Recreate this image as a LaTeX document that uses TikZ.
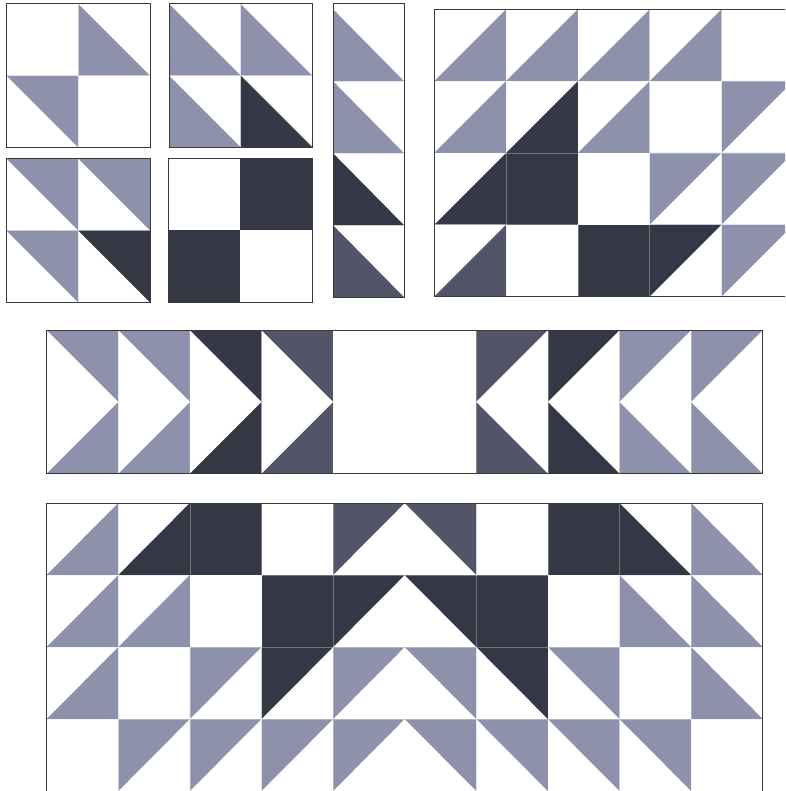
\documentclass[tikz,border=0pt]{standalone}
\definecolor{qlight}{RGB}{142,145,171}
\definecolor{qdark}{RGB}{52,55,68}
\definecolor{qmid}{RGB}{82,85,103}
\tikzset{
  blockframe/.style={draw=black!78,line width=1pt},
  seam/.style={draw=white,opacity=0.3,line width=0.6pt}
}
\newcommand\qsLL[1]{\fill[#1] (0,0) -- (0,\ch) -- (\cw,\ch) -- cycle;}
\newcommand\qsLR[1]{\fill[#1] (0,\ch) -- (\cw,\ch) -- (\cw,0) -- cycle;}
\newcommand\qsUL[1]{\fill[#1] (0,0) -- (\cw,0) -- (0,\ch) -- cycle;}
\newcommand\qsUR[1]{\fill[#1] (0,0) -- (\cw,0) -- (\cw,\ch) -- cycle;}
\newcommand\qsF[1]{\fill[#1] (0,0) rectangle (\cw,\ch);}
\newcommand\qc[4]{%
  \begin{scope}[shift={({\ox+(#1-1)*\cw},{\oy+(#2-1)*\ch})}]
    \csname qs#3\endcsname{#4}
  \end{scope}}
\newcommand\vseams[2]{\foreach \i in {#1} \draw[seam] ({\ox+\i*\cw},\oy) -- ++(0,{#2*\ch});}
\newcommand\hseams[2]{\foreach \j in {#1} \draw[seam] (\ox,{\oy+\j*\ch}) -- ++({#2*\cw},0);}
\newcommand\gooseR[2]{%
  \fill[#2] ({\ox+(#1-1)*\cw},\oy) rectangle ++(\cw,{2*\ch});
  \fill[white] ({\ox+(#1-1)*\cw},\oy) -- ++(0,{2*\ch}) -- ++(\cw,-\ch) -- cycle;}
\newcommand\gooseL[2]{%
  \fill[#2] ({\ox+(#1-1)*\cw},\oy) rectangle ++(\cw,{2*\ch});
  \fill[white] ({\ox+#1*\cw},\oy) -- ++(0,{2*\ch}) -- ++(-\cw,-\ch) -- cycle;}

\begin{document}
\begin{tikzpicture}[x=1pt,y=-1pt]
\useasboundingbox (0,0) rectangle (785,791);
\clip (0,0) rectangle (785,791);
\fill[white] (0,0) rectangle (785,791);

% ---- Block A
\def\ox{6.5}\def\oy{4}\def\cw{71.75}\def\ch{71.75}
\qc{2}{1}{LL}{qlight}
\qc{1}{2}{UR}{qlight}
\vseams{1}{2}\hseams{1}{2}
\draw[blockframe] (\ox,\oy) rectangle ++({2*\cw},{2*\ch});

% ---- Block B
\def\ox{169}\def\oy{4}\def\cw{71.6}\def\ch{71.6}
\qc{1}{1}{LL}{qlight}
\qc{2}{1}{LL}{qlight}
\qc{1}{2}{LL}{qlight}
\qc{2}{2}{LL}{qdark}
\vseams{1}{2}\hseams{1}{2}
\draw[blockframe] (\ox,\oy) rectangle ++({2*\cw},{2*\ch});

% ---- Block C
\def\ox{6.5}\def\oy{158.5}\def\cw{71.75}\def\ch{72}
\qc{1}{1}{UR}{qlight}
\qc{2}{1}{UR}{qlight}
\qc{1}{2}{UR}{qlight}
\qc{2}{2}{UR}{qdark}
\vseams{1}{2}\hseams{1}{2}
\draw[blockframe] (\ox,\oy) rectangle ++({2*\cw},{2*\ch});

% ---- Block D
\def\ox{168.7}\def\oy{158.5}\def\cw{71.75}\def\ch{72}
\qc{2}{1}{F}{qdark}
\qc{1}{2}{F}{qdark}
\draw[blockframe] (\ox,\oy) rectangle ++({2*\cw},{2*\ch});

% ---- Block E (vertical strip)
\def\ox{333.3}\def\oy{9.5}\def\cw{71}\def\ch{72}
\qc{1}{1}{LL}{qlight}
\qc{1}{2}{LL}{qlight}
\qc{1}{3}{LL}{qdark}
\qc{1}{4}{LL}{qmid}
\hseams{1,2,3}{1}
\draw[blockframe] (\ox,4) rectangle ({\ox+\cw},{\oy+4*\ch});

% ---- Block F (top right)
\def\ox{434.3}\def\oy{9.3}\def\cw{71.8}\def\ch{71.8}
\qc{1}{1}{LR}{qlight}
\qc{2}{1}{LR}{qlight}
\qc{3}{1}{LR}{qlight}
\qc{4}{1}{LR}{qlight}
\qc{1}{2}{LR}{qlight}
\qc{2}{2}{LR}{qdark}
\qc{3}{2}{LR}{qlight}
\qc{5}{2}{UL}{qlight}
\qc{1}{3}{LR}{qdark}
\qc{2}{3}{F}{qdark}
\qc{4}{3}{UL}{qlight}
\qc{5}{3}{UL}{qlight}
\qc{1}{4}{LR}{qmid}
\qc{3}{4}{F}{qdark}
\qc{4}{4}{UL}{qdark}
\qc{5}{4}{UL}{qlight}
\vseams{1,2,3,4}{4}\hseams{1,2,3}{5}
\draw[blockframe] (\ox,\oy) rectangle ++({5*\cw},{4*\ch});

% ---- Block G (flying geese band)
\def\ox{46.7}\def\oy{330.3}\def\cw{71.6}\def\ch{71.6}
\gooseR{1}{qlight}
\gooseR{2}{qlight}
\gooseR{3}{qdark}
\gooseR{4}{qmid}
\gooseL{7}{qmid}
\gooseL{8}{qdark}
\gooseL{9}{qlight}
\gooseL{10}{qlight}
\vseams{1,2,3,4,6,7,8,9}{2}
\draw[blockframe] (\ox,\oy) rectangle ++({10*\cw},{2*\ch});

% ---- Block H (bottom)
\def\ox{46.7}\def\oy{503}\def\cw{71.6}\def\ch{72}
% row 1
\qc{1}{1}{LR}{qlight}
\qc{2}{1}{LR}{qdark}
\qc{3}{1}{F}{qdark}
\qc{5}{1}{UL}{qmid}
\qc{6}{1}{UR}{qmid}
\qc{8}{1}{F}{qdark}
\qc{9}{1}{LL}{qdark}
\qc{10}{1}{LL}{qlight}
% row 2
\qc{1}{2}{LR}{qlight}
\qc{2}{2}{LR}{qlight}
\qc{4}{2}{F}{qdark}
\qc{5}{2}{UL}{qdark}
\qc{6}{2}{UR}{qdark}
\qc{7}{2}{F}{qdark}
\qc{9}{2}{LL}{qlight}
\qc{10}{2}{LL}{qlight}
% row 3
\qc{1}{3}{LR}{qlight}
\qc{3}{3}{UL}{qlight}
\qc{4}{3}{UL}{qdark}
\qc{5}{3}{UL}{qlight}
\qc{6}{3}{UR}{qlight}
\qc{7}{3}{UR}{qdark}
\qc{8}{3}{UR}{qlight}
\qc{10}{3}{LL}{qlight}
% row 4
\qc{2}{4}{UL}{qlight}
\qc{3}{4}{UL}{qlight}
\qc{4}{4}{UL}{qlight}
\qc{5}{4}{UL}{qlight}
\qc{6}{4}{UR}{qlight}
\qc{7}{4}{UR}{qlight}
\qc{8}{4}{UR}{qlight}
\qc{9}{4}{UR}{qlight}
\vseams{1,2,3,4,5,6,7,8,9}{4}\hseams{1,2,3}{10}
\draw[blockframe] (\ox,\oy) rectangle ++({10*\cw},{4.2*\ch});
\end{tikzpicture}
\end{document}
